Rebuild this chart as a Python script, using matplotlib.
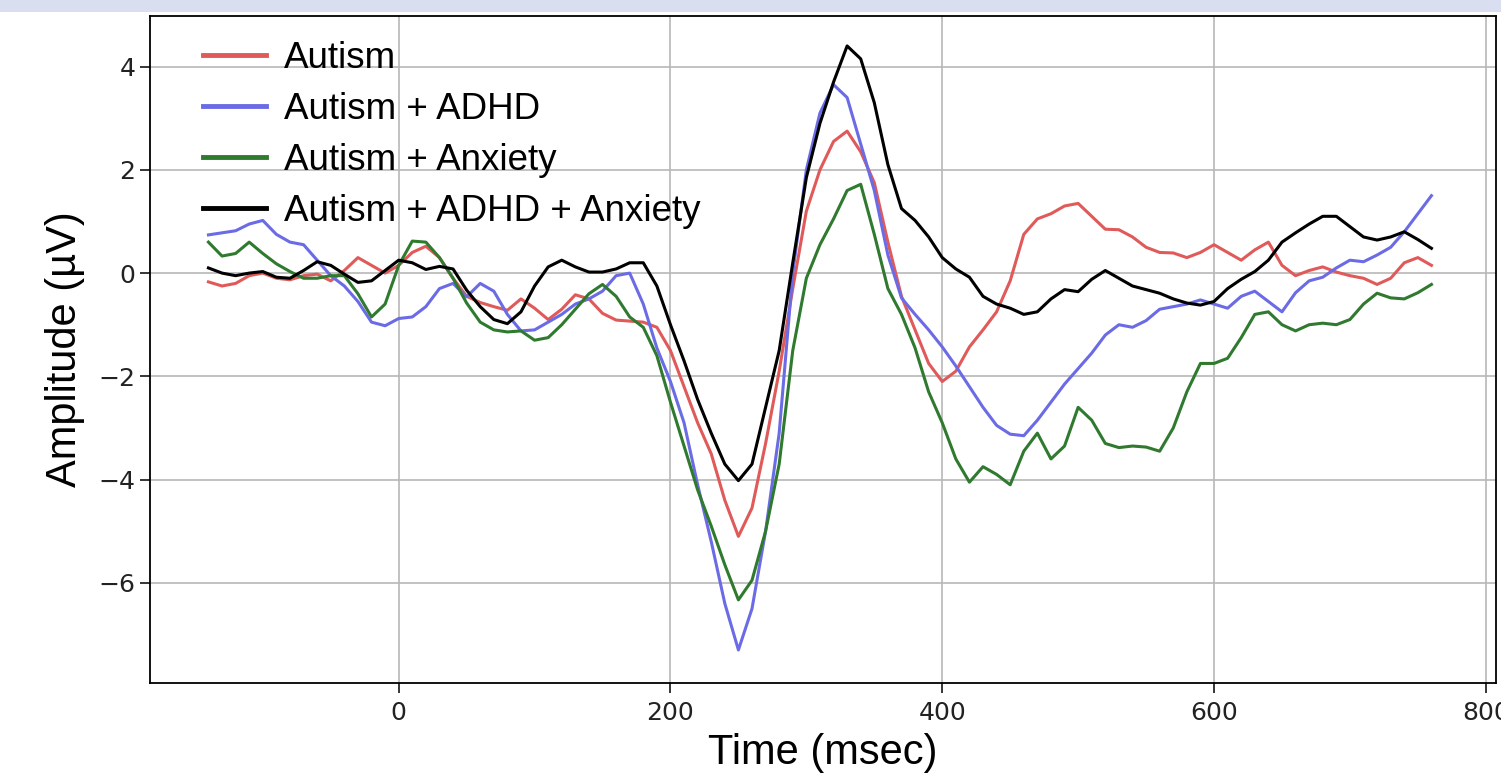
import matplotlib.pyplot as plt
from matplotlib.patches import Rectangle
import numpy as np

# time axis (msec), one sample every 10 ms
time_ms = np.arange(-140, 770, 10)

autism = [-0.17, -0.25, -0.2, -0.05, 0.0, -0.1, -0.13, -0.05, -0.02, -0.15,
          0.05, 0.3, 0.15, 0.0, 0.15, 0.4, 0.52, 0.3, -0.1, -0.45,
          -0.57, -0.65, -0.72, -0.5, -0.68, -0.9, -0.7, -0.42, -0.5, -0.78,
          -0.91, -0.93, -0.95, -1.05, -1.5, -2.2, -2.9, -3.5, -4.4, -5.1,
          -4.55, -3.3, -1.9, -0.3, 1.2, 2.0, 2.55, 2.75, 2.35, 1.75,
          0.6, -0.45, -1.1, -1.75, -2.1, -1.9, -1.43, -1.1, -0.75, -0.15,
          0.75, 1.05, 1.15, 1.3, 1.35, 1.1, 0.85, 0.84, 0.7, 0.5,
          0.4, 0.39, 0.3, 0.4, 0.55, 0.4, 0.25, 0.45, 0.6, 0.15,
          -0.05, 0.05, 0.12, 0.02, -0.05, -0.1, -0.22, -0.1, 0.2, 0.3,
          0.15]

autism_adhd = [0.74, 0.78, 0.82, 0.95, 1.02, 0.75, 0.6, 0.55, 0.25, -0.05,
               -0.25, -0.55, -0.95, -1.02, -0.88, -0.85, -0.65, -0.3, -0.2, -0.46,
               -0.2, -0.35, -0.8, -1.12, -1.1, -0.95, -0.8, -0.6, -0.5, -0.35,
               -0.05, 0.0, -0.6, -1.45, -2.1, -2.9, -4.1, -5.2, -6.4, -7.3,
               -6.5, -5.0, -3.1, 0.0, 2.0, 3.1, 3.65, 3.4, 2.5, 1.6,
               0.35, -0.48, -0.8, -1.1, -1.43, -1.8, -2.2, -2.6, -2.95, -3.12,
               -3.15, -2.85, -2.5, -2.15, -1.85, -1.55, -1.2, -1.0, -1.05, -0.92,
               -0.7, -0.65, -0.6, -0.52, -0.6, -0.68, -0.45, -0.35, -0.55, -0.75,
               -0.38, -0.15, -0.08, 0.1, 0.25, 0.22, 0.35, 0.5, 0.8, 1.15,
               1.5]

autism_anxiety = [0.6, 0.33, 0.38, 0.6, 0.38, 0.18, 0.03, -0.1, -0.1, -0.05,
                  -0.05, -0.4, -0.85, -0.6, 0.15, 0.62, 0.6, 0.3, -0.1, -0.58,
                  -0.95, -1.1, -1.14, -1.12, -1.3, -1.25, -1.0, -0.7, -0.4, -0.22,
                  -0.45, -0.85, -1.05, -1.6, -2.5, -3.35, -4.2, -4.9, -5.65, -6.33,
                  -5.95, -5.0, -3.7, -1.5, -0.1, 0.55, 1.05, 1.6, 1.72, 0.75,
                  -0.3, -0.8, -1.45, -2.3, -2.9, -3.6, -4.05, -3.75, -3.9, -4.1,
                  -3.45, -3.1, -3.6, -3.35, -2.6, -2.85, -3.3, -3.38, -3.35, -3.37,
                  -3.45, -3.0, -2.3, -1.75, -1.75, -1.65, -1.25, -0.8, -0.75, -1.0,
                  -1.12, -1.0, -0.97, -1.0, -0.9, -0.6, -0.39, -0.48, -0.5, -0.38,
                  -0.22]

autism_adhd_anxiety = [0.1, 0.0, -0.05, 0.0, 0.03, -0.08, -0.1, 0.05, 0.22, 0.15,
                       -0.02, -0.18, -0.15, 0.05, 0.25, 0.2, 0.07, 0.13, 0.08, -0.33,
                       -0.65, -0.9, -0.98, -0.75, -0.25, 0.12, 0.25, 0.12, 0.02, 0.02,
                       0.08, 0.2, 0.2, -0.25, -1.0, -1.7, -2.45, -3.1, -3.7, -4.02,
                       -3.7, -2.6, -1.5, 0.2, 1.85, 2.9, 3.7, 4.4, 4.15, 3.3,
                       2.1, 1.25, 1.02, 0.7, 0.3, 0.08, -0.08, -0.45, -0.6, -0.68,
                       -0.8, -0.75, -0.5, -0.32, -0.36, -0.12, 0.05, -0.1, -0.25, -0.32,
                       -0.39, -0.5, -0.58, -0.62, -0.55, -0.3, -0.12, 0.03, 0.25, 0.6,
                       0.78, 0.95, 1.1, 1.1, 0.9, 0.7, 0.64, 0.7, 0.8, 0.65,
                       0.48]

labels = ['Autism', 'Autism + ADHD', 'Autism + Anxiety', 'Autism + ADHD + Anxiety']
colors = ['#E05A5A', '#6B6BE6', '#2F7A2F', '#000000']

fig = plt.figure(figsize=(15.01, 7.80), dpi=100)
# light band at the top of the slide
fig.patches.append(Rectangle((0, 1 - 12/780), 1, 12/780, transform=fig.transFigure,
                             facecolor='#D9DEF0', edgecolor='none'))

ax = fig.add_axes([150/1501, 97/780, 1346/1501, 667/780])
for series, lab, col in zip([autism, autism_adhd, autism_anxiety, autism_adhd_anxiety], labels, colors):
    ax.plot(time_ms, series, color=col, linewidth=2.2, label=lab,
            solid_joinstyle='round')

ax.set_xlim(-183, 807.5)
ax.set_ylim(-7.94, 4.98)
ax.grid(True, color='#b8b8b8', linewidth=1.2)
ax.set_xticks([0, 200, 400, 600, 800])
ax.set_yticks([-6, -4, -2, 0, 2, 4])
ax.tick_params(labelsize=18, length=7, width=1.1, labelcolor='#222222')
ax.tick_params(axis='x', pad=6)
for s in ax.spines.values():
    s.set_linewidth(1.3)

ax.set_xlabel('Time (msec)', fontsize=30, family='Liberation Sans', labelpad=6)
ax.set_ylabel('Amplitude (µV)', fontsize=30, family='Liberation Sans', labelpad=10)

leg = ax.legend(loc='upper left', bbox_to_anchor=(0.0394, 0.962), frameon=False,
                borderaxespad=0, borderpad=0, labelspacing=0.43, handlelength=1.7,
                handletextpad=0.5, prop={'family': 'Liberation Sans', 'size': 26.5})
for line in leg.get_lines():
    line.set_linewidth(3.5)

fig.savefig('out.png', dpi=100)
